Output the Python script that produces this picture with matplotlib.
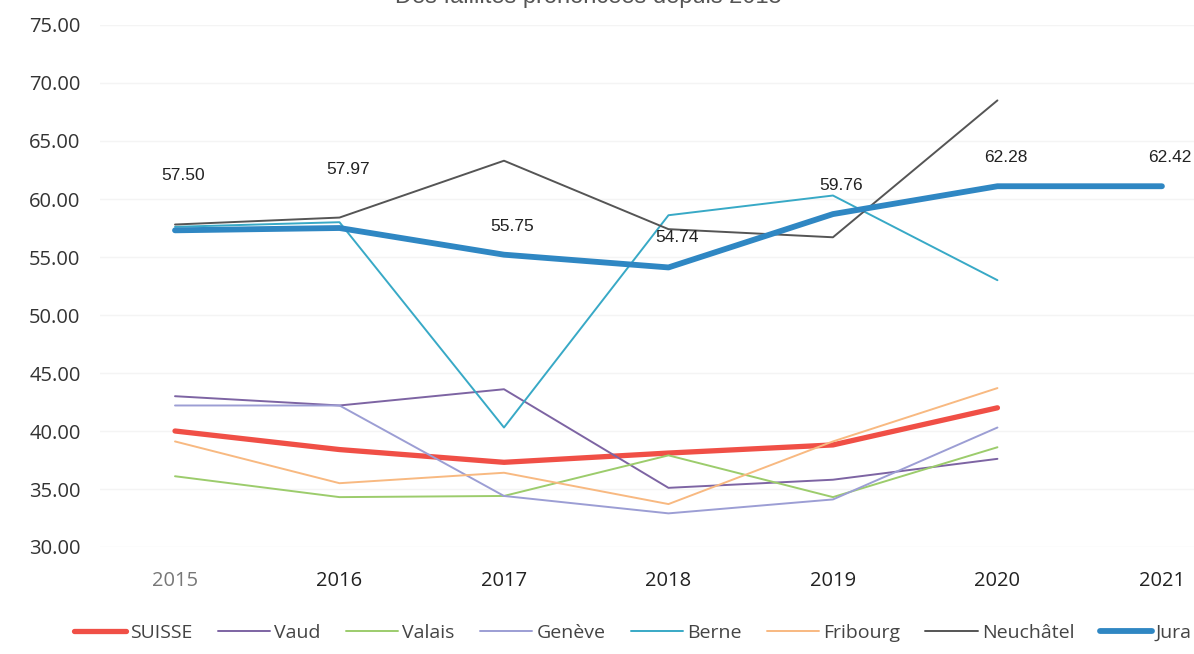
import matplotlib
matplotlib.use("Agg")
import matplotlib.pyplot as plt

# Data
years = [2015, 2016, 2017, 2018, 2019, 2020, 2021]
suisse = [40.0, 38.4, 37.3, 38.1, 38.8, 42.0]
vaud = [43.0, 42.2, 43.6, 35.1, 35.8, 37.6]
valais = [36.1, 34.3, 34.4, 37.9, 34.3, 38.6]
geneve = [42.2, 42.2, 34.4, 32.9, 34.1, 40.3]
berne = [57.6, 58.0, 40.3, 58.6, 60.3, 53.0]
fribourg = [39.1, 35.5, 36.4, 33.7, 39.1, 43.7]
neuchatel = [57.8, 58.4, 63.3, 57.4, 56.7, 68.5]
jura = [57.3, 57.5, 55.2, 54.1, 58.7, 61.1, 61.1]
jura_labels = ["57.50", "57.97", "55.75", "54.74", "59.76", "62.28", "62.42"]

y_ticks = [30, 35, 40, 45, 50, 55, 60, 65, 70, 75]

# series: (name, values, colour, width)
series = [
    ("SUISSE", suisse, "#f04f46", 3.8),
    ("Vaud", vaud, "#7d64a3", 1.4),
    ("Valais", valais, "#9ccc6c", 1.4),
    ("Genève", geneve, "#9c9ed4", 1.4),
    ("Berne", berne, "#38a9c6", 1.4),
    ("Fribourg", fribourg, "#f8b981", 1.4),
    ("Neuchâtel", neuchatel, "#555555", 1.4),
    ("Jura", jura, "#2f87c3", 4.2),
]

fig = plt.figure(figsize=(11.94, 6.54), dpi=100)
ax = fig.add_axes([100 / 1194, 107 / 654, 1094 / 1194, 522 / 654])

for name, vals, col, lw in series:
    ax.plot(years[:len(vals)], vals, color=col, linewidth=lw, label=name,
            solid_capstyle="round", solid_joinstyle="round")

# data labels above the Jura line (offsets in points)
label_dy = [34, 37, 15, 16, 15, 15, 15]
for x, v, txt, dy in zip(years, jura, jura_labels, label_dy):
    ax.annotate(txt, (x, v), xytext=(6, dy), textcoords="offset points",
                ha="center", va="bottom", fontsize=12.5, color="#222222",
                family="Liberation Sans")

ax.set_xlim(2014.544, 2021.195)
ax.set_ylim(30, 75)
ax.set_yticks(y_ticks)
ax.set_yticklabels(["%.2f" % t for t in y_ticks])
ax.set_xticks(years)
ax.set_xticklabels([str(y) for y in years])
for spine in ax.spines.values():
    spine.set_visible(False)
ax.tick_params(length=0)
ax.tick_params(axis="y", pad=14, labelsize=14.5, labelcolor="#333333")
ax.tick_params(axis="x", pad=17, labelsize=14.5, labelcolor="#222222")
for lab in ax.get_yticklabels() + ax.get_xticklabels():
    lab.set_family("Open Sans")
ax.get_xticklabels()[0].set_color("#777777")
ax.grid(axis="y", color="#f4f4f4", linewidth=1)
ax.set_axisbelow(True)

fig.text(0.493, 1 - 3 / 654, "Des faillites prononcées depuis 2015",
         ha="center", va="baseline", fontsize=17, color="#555555",
         family="Liberation Sans")

leg = fig.legend(loc="center", bbox_to_anchor=(0.530, 1 - 633 / 654), ncol=8,
                 frameon=False, handlelength=2.7, handletextpad=0.2,
                 columnspacing=1.3, borderaxespad=0,
                 prop={"family": "Open Sans", "size": 14})
for t in leg.get_texts():
    t.set_color("#444444")

fig.savefig("out.png", dpi=100)
